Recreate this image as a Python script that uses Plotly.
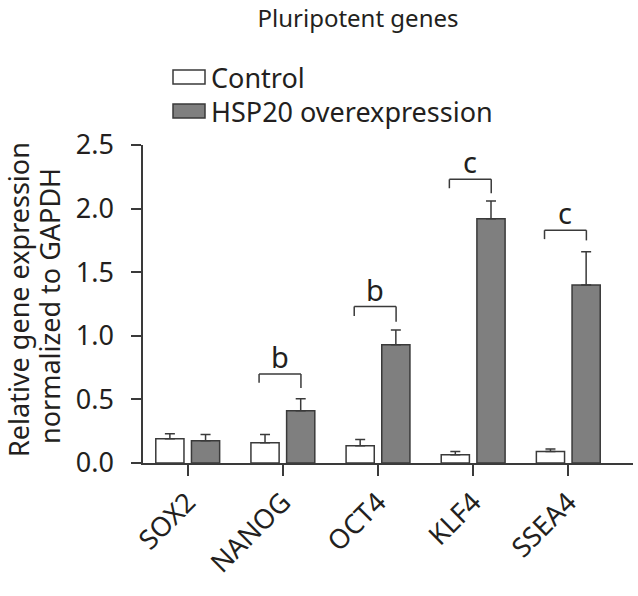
import plotly.graph_objects as go

# --- data ---
genes = ["SOX2", "NANOG", "OCT4", "KLF4", "SSEA4"]
control = [0.19, 0.16, 0.135, 0.065, 0.09]
control_err = [0.04, 0.065, 0.05, 0.025, 0.02]
hsp20 = [0.175, 0.41, 0.93, 1.92, 1.40]
hsp20_err = [0.05, 0.095, 0.115, 0.14, 0.26]

sig_genes = ["NANOG", "OCT4", "KLF4", "SSEA4"]
sig_labels = ["b", "b", "c", "c"]
bracket_top = [0.70, 1.23, 2.23, 1.83]
bracket_left_end = [0.63, 1.155, 2.16, 1.76]
bracket_right_end = [0.59, 1.11, 2.12, 1.75]

y_ticks = [0.0, 0.5, 1.0, 1.5, 2.0, 2.5]

# --- style ---
FONT = "Noto Sans"
INK = "#231f20"
EDGE = "#3a3a3a"
GREY = "#7f7f7f"
W, H = 638, 596
L, R, T, B = 143, 5, 145, 133


# helpers: window pixel -> paper fraction
def px_x(p):
    return (p - L) / (W - L - R)


def px_y(p):
    return (H - B - p) / (H - T - B)


fig = go.Figure()
fig.add_trace(go.Bar(
    x=genes, y=control, name="Control",
    marker=dict(color="white", line=dict(color=EDGE, width=1.5)),
    error_y=dict(type="data", symmetric=False, array=control_err,
                 arrayminus=[0] * len(control), color=EDGE, thickness=1.5, width=5),
))
fig.add_trace(go.Bar(
    x=genes, y=hsp20, name="HSP20 overexpression",
    marker=dict(color=GREY, line=dict(color=EDGE, width=1.5)),
    error_y=dict(type="data", symmetric=False, array=hsp20_err,
                 arrayminus=[0] * len(hsp20), color=EDGE, thickness=1.5, width=5),
))

# significance brackets
for g, lab, top, lo_l, lo_r in zip(sig_genes, sig_labels, bracket_top,
                                   bracket_left_end, bracket_right_end):
    i = genes.index(g)
    x0, x1 = i - 0.25, i + 0.19
    line = dict(color=EDGE, width=1.5)
    fig.add_shape(type="line", xref="x", yref="y", x0=x0, x1=x1, y0=top, y1=top, line=line)
    fig.add_shape(type="line", xref="x", yref="y", x0=x0, x1=x0, y0=lo_l, y1=top, line=line)
    fig.add_shape(type="line", xref="x", yref="y", x0=x1, x1=x1, y0=lo_r, y1=top, line=line)
    fig.add_annotation(x=(x0 + x1) / 2, y=top, xref="x", yref="y", text=lab,
                       showarrow=False, yanchor="bottom", yshift=-4,
                       font=dict(family=FONT, size=29, color=INK))

# legend drawn by hand (wide boxes like the original)
legend_items = [("Control", "white", 70), ("HSP20 overexpression", GREY, 104)]
for text, fill, ytop in legend_items:
    fig.add_shape(type="rect", xref="paper", yref="paper",
                  x0=px_x(173), x1=px_x(205), y0=px_y(ytop), y1=px_y(ytop + 14),
                  fillcolor=fill, line=dict(color=EDGE, width=1.5))
    fig.add_annotation(x=px_x(209), y=px_y(ytop + 7), xref="paper", yref="paper",
                       text=text, showarrow=False, xanchor="left", yanchor="middle",
                       font=dict(family=FONT, size=27, color=INK))

# two-line y title
for text, xc, yc in [("Relative gene expression", 18, 300),
                     ("normalized to GAPDH", 49, 306)]:
    fig.add_annotation(x=px_x(xc), y=px_y(yc), xref="paper", yref="paper",
                       text=text, textangle=-90, showarrow=False,
                       xanchor="center", yanchor="middle",
                       font=dict(family=FONT, size=27, color=INK))

fig.update_layout(
    width=W, height=H, autosize=False,
    margin=dict(l=L, r=R, t=T, b=B),
    plot_bgcolor="white", paper_bgcolor="white",
    barmode="group", bargap=0.25, bargroupgap=0.21,
    showlegend=False,
    title=dict(text="Pluripotent genes", x=358 / W, xref="container",
               xanchor="center", y=1 - 19 / H, yanchor="middle",
               font=dict(family=FONT, size=24, color=INK)),
    font=dict(family=FONT, size=27, color=INK),
)
fig.update_xaxes(
    type="category", range=[-0.47, 4.68],
    showline=True, linecolor=EDGE, linewidth=1.5,
    ticks="outside", ticklen=11, tickwidth=1.5, tickcolor=EDGE,
    tickangle=-45, tickfont=dict(family=FONT, size=27, color=INK),
    showgrid=False, zeroline=False,
)
fig.update_yaxes(
    range=[0, 2.5], tickvals=y_ticks, ticktext=[f"{v:.1f}" for v in y_ticks],
    showline=True, linecolor=EDGE, linewidth=1.5,
    ticks="outside", ticklen=10, tickwidth=1.5, tickcolor=EDGE,
    ticklabelstandoff=12, tickfont=dict(family=FONT, size=27, color=INK),
    showgrid=False, zeroline=False,
)

# drop the default 8px page margin so the figure fills the window; no modebar
fig.write_html("out.html", config={"displayModeBar": False},
               post_script="document.body.style.margin='0px';")
